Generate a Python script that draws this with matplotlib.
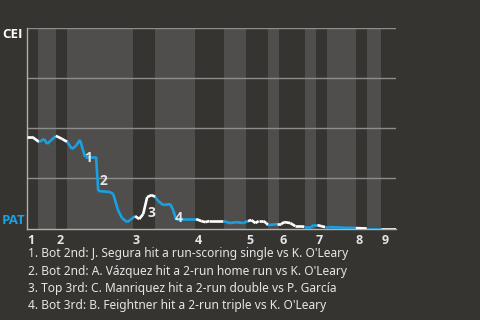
import matplotlib
matplotlib.use('Agg')
import matplotlib.pyplot as plt
from matplotlib.collections import LineCollection
import numpy as np

# game progress measured in plate appearances; end of each half inning
half_ends = [3, 8, 11, 29, 35, 46, 54, 60, 66, 69, 76, 79, 82, 90, 93, 97, 101]
innings = [1, 2, 3, 4, 5, 6, 7, 8, 9]

# CEI win probability (%) through the game
wp_x = [0, 1.4, 3.3, 3.8, 4.7, 5.5, 7.9, 9.6, 11, 12.3, 13.4, 14.5, 15.3, 15.9,
        18.9, 19.5, 22.7, 23.6, 24.9, 26, 27.4, 28.2, 29.6, 30.7, 31.8, 32.9,
        34.2, 35.1, 35.9, 37.3, 39.2, 40, 40.8, 46.3, 47.7, 48.8, 49.9, 53.7,
        55.6, 57.3, 59.2, 60.5, 61.4, 62.5, 63.4, 64.7, 65.5, 66, 68.5, 69.6,
        70.4, 72.1, 73.4, 75.3, 75.9, 77.8, 78.4, 79.5, 80.5, 81.6, 82.5, 86.8,
        90, 93, 97, 101]
wp_y = [45.7, 45.7, 43.2, 43.7, 44.6, 42.2, 46.2, 44.7, 43.2, 39.7, 41.2, 44.2,
        39.2, 35.7, 35.7, 18.7, 18.2, 17.2, 9.2, 5.2, 3.2, 4.2, 6.2, 4.7, 7.2,
        15.7, 16.7, 15.7, 13.7, 11.7, 12.2, 9.2, 4.7, 4.7, 3.7, 3.2, 3.7, 3.7,
        2.7, 3.2, 2.7, 3.7, 4.2, 2.7, 3.7, 3.7, 2.7, 1.7, 2.2, 2.2, 3.2, 2.7,
        1.2, 1.2, 0.7, 0.7, 1.7, 1.7, 1.2, 0.7, 0.7, 0.4, 0.2, 0, 0, 0]

# big plays: label position
ev_x = [16.7, 20.8, 34.0, 41.6]
ev_y = [35.2, 23.7, 7.7, 5.2]
notes = [
    "1. Bot 2nd: J. Segura hit a run-scoring single vs K. O'Leary",
    "2. Bot 2nd: A. Vázquez hit a 2-run home run vs K. O'Leary",
    "3. Top 3rd: C. Manriquez hit a 2-run double vs P. García",
    "4. Bot 3rd: B. Feightner hit a 2-run triple vs K. O'Leary",
]

bg = '#363430'
band = '#4f4e4c'
blue = '#1aa1e2'
white = '#ffffff'
txt = '#e6e6e6'

plt.rcParams['font.family'] = ['Noto Sans', 'DejaVu Sans']
bold = ['Open Sans', 'DejaVu Sans']

fig = plt.figure(figsize=(4.8, 3.2), dpi=100, facecolor=bg)
ax = fig.add_axes([27/480, 1 - 228.5/320, 369/480, 200.5/320])
ax.set_facecolor(bg)

starts = [0] + half_ends[:-1]
for i, (a, b) in enumerate(zip(starts, half_ends)):
    if i % 2 == 1:
        ax.axvspan(a, b, color=band, lw=0, zorder=0)

for g in [25, 50, 75, 100]:
    ax.axhline(g, color='#8c8c8c', lw=1, zorder=1)

pts = np.column_stack([wp_x, wp_y])
segs = np.stack([pts[:-1], pts[1:]], axis=1)
mids = (pts[:-1, 0] + pts[1:, 0]) / 2
half = np.searchsorted(half_ends, mids)
cols = [white if h % 2 == 0 else blue for h in half]
lc = LineCollection(segs, colors=cols, linewidths=1.9, zorder=3,
                    capstyle='butt', joinstyle='miter')
ax.add_collection(lc)

for k, (x, y) in enumerate(zip(ev_x, ev_y)):
    ax.text(x, y, str(k + 1), color=txt, fontsize=10, fontweight='bold',
            family=bold, ha='center', va='center', zorder=4)

ax.set_xlim(0, half_ends[-1])
ax.set_ylim(0, 100)
ax.set_xticks([])
ax.set_yticks([])
for s in ['top', 'right']:
    ax.spines[s].set_visible(False)
ax.spines['left'].set_color('#b0b0b0')
ax.spines['bottom'].set_color('#b0b0b0')
ax.spines['left'].set_linewidth(1)
ax.spines['bottom'].set_linewidth(1)

# inning numbers at the start of each inning
for n, s in zip(innings, starts[::2]):
    ax.text(s, -2.5, str(n), color=txt, fontsize=9, fontweight='bold',
            family=bold, ha='left', va='top', clip_on=False)

fig.text(2/480, 1 - 35/320, 'CEI', color=white, fontsize=9.5, fontweight='bold',
         family=bold, ha='left', va='center')
fig.text(2/480, 1 - 221/320, 'PAT', color=blue, fontsize=9.5, fontweight='bold',
         family=bold, ha='left', va='center')

for i, line in enumerate(notes):
    fig.text(28/480, 1 - (254 + i * 17.3)/320, line, color=txt, fontsize=8.6,
             ha='left', va='center')

fig.savefig('out.png', dpi=100, facecolor=bg)
